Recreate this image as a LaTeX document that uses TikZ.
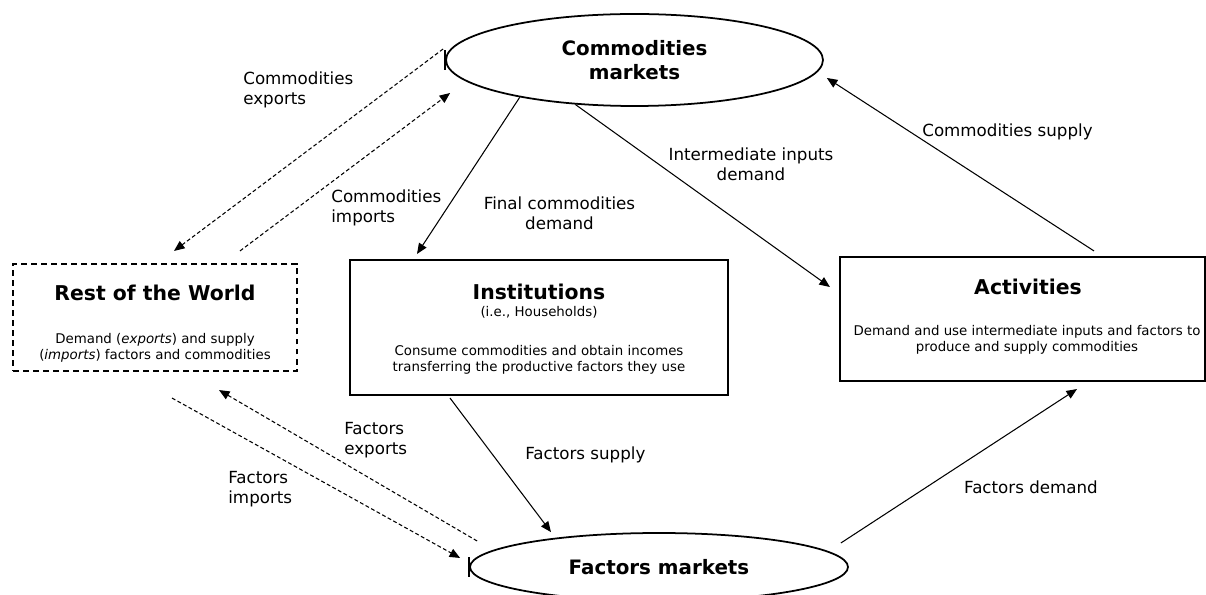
\documentclass[tikz,border=0pt]{standalone}
\usepackage{fontspec}
\setmainfont{DejaVu Sans}
\usepackage{tikz}
\usetikzlibrary{arrows.meta, positioning, shapes, calc}

\begin{document}
\begin{tikzpicture}[
        market/.style={ellipse, draw, line width=1pt, inner sep=0pt, font=\bfseries\fontsize{11.3}{13.7}\selectfont, align=center},
        box/.style={rectangle, draw, line width=1.2pt, inner sep=0pt},
        rowbox/.style={box, dash pattern=on 3.4pt off 2.3pt},
        title/.style={inner sep=0pt, font=\bfseries\fontsize{11.6}{13.7}\selectfont},
        desc/.style={inner sep=0pt, font=\fontsize{7.6}{9.1}\selectfont, align=center},
        flow/.style={inner sep=0pt, font=\fontsize{9.5}{11.4}\selectfont, align=left},
        arrow/.style={-{Triangle[length=6pt, width=5pt]}, line width=0.6pt},
        trade/.style={arrow, dash pattern=on 2.2pt off 1.4pt}
    ]
    \useasboundingbox (0,0) rectangle (24.12,-11.9);

    % Markets
    \node[market, minimum width=7.54cm, minimum height=1.84cm] (cm) at (12.69,-1.2) {Commodities\\markets};
    \node[market, minimum width=7.56cm, minimum height=1.36cm] (fm) at (13.18,-11.34) {Factors markets};
    \draw[line width=1pt] ([yshift=-0.2cm]cm.west) -- ([yshift=0.2cm]cm.west);
    \draw[line width=1pt] ([yshift=-0.2cm]fm.west) -- ([yshift=0.2cm]fm.west);

    % Rest of the World
    \node[rowbox, minimum width=5.68cm, minimum height=2.14cm] (row) at (3.1,-6.35) {};
    \node[title] (rowtitle) at (3.1,-5.86) {Rest of the World};
    \node[desc] (rowdesc) at (3.1,-6.95) {Demand (\textit{exports}) and supply\\(\textit{imports}) factors and commodities};

    % Institutions
    \node[box, minimum width=7.56cm, minimum height=2.7cm] (inst) at (10.78,-6.55) {};
    \node[title] (insttitle) at (10.78,-5.84) {Institutions};
    \node[desc] (instsub) at (10.78,-6.24) {(i.e., Households)};
    \node[desc] (instdesc) at (10.78,-7.2) {Consume commodities and obtain incomes\\transferring the productive factors they use};

    % Activities
    \node[box, minimum width=7.3cm, minimum height=2.48cm] (act) at (20.45,-6.38) {};
    \node[title] (acttitle) at (20.56,-5.74) {Activities};
    \node[desc] (actdesc) at (20.54,-6.8) {Demand and use intermediate inputs and factors to\\produce and supply commodities};

    % Commodities trade
    \draw[trade] ([xshift=-0.04cm,yshift=0.22cm]cm.west) -- ([xshift=0.38cm,yshift=0.24cm]row.north);
    \draw[trade] ([xshift=1.7cm,yshift=0.24cm]row.north) -- ([xshift=0.1cm,yshift=-0.66cm]cm.west);
    \node[flow, anchor=west] (cexp) at (4.86,-1.8) {Commodities\\exports};
    \node[flow, anchor=west] (cimp) at (6.62,-4.16) {Commodities\\imports};

    % Domestic flows
    \draw[arrow] (cm.198) -- ([xshift=-2.44cm,yshift=0.1cm]inst.north);
    \draw[arrow] (cm.217) -- ([xshift=-0.18cm,yshift=0.64cm]act.west);
    \draw[arrow] ([xshift=1.43cm,yshift=0.1cm]act.north) -- ([xshift=0.06cm,yshift=-0.36cm]cm.east);
    \draw[arrow] ([xshift=-1.78cm,yshift=-0.04cm]inst.south) -- ([xshift=-2.16cm]fm.north);
    \draw[arrow] ([xshift=-0.16cm,yshift=0.48cm]fm.east) -- ([xshift=1.09cm,yshift=-0.14cm]act.south);
    \node[flow, align=center] (fcd) at (11.19,-4.26) {Final commodities\\demand};
    \node[flow, align=center] (iid) at (15.02,-3.28) {Intermediate inputs\\demand};
    \node[flow] (csup) at (20.15,-2.64) {Commodities supply};
    \node[flow, anchor=west] (fsup) at (10.5,-9.1) {Factors supply};
    \node[flow] (fdem) at (20.62,-9.74) {Factors demand};

    % Factors trade
    \draw[trade] ([xshift=0.16cm,yshift=0.52cm]fm.west) -- ([xshift=1.28cm,yshift=-0.36cm]row.south);
    \draw[trade] ([xshift=0.34cm,yshift=-0.52cm]row.south) -- ([xshift=-0.18cm,yshift=0.18cm]fm.west);
    \node[flow, anchor=west] (fexp) at (6.88,-8.8) {Factors\\exports};
    \node[flow, anchor=west] (fimp) at (4.56,-9.78) {Factors\\imports};
\end{tikzpicture}
\end{document}
